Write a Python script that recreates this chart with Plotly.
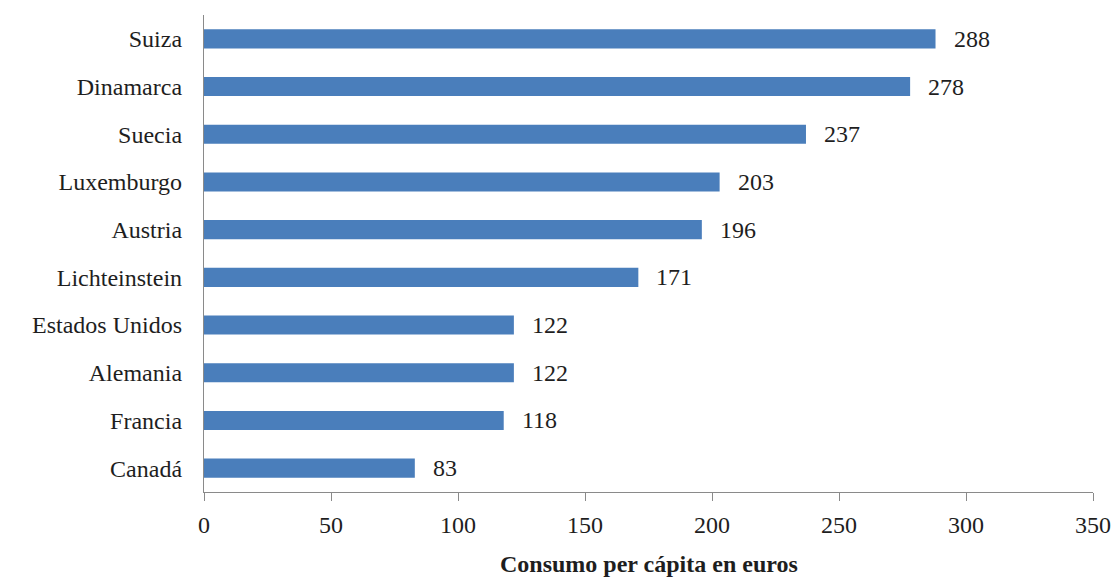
import plotly.graph_objects as go

countries = ["Suiza", "Dinamarca", "Suecia", "Luxemburgo", "Austria",
             "Lichteinstein", "Estados Unidos", "Alemania", "Francia", "Canadá"]
values = [288, 278, 237, 203, 196, 171, 122, 122, 118, 83]
x_ticks = [0, 50, 100, 150, 200, 250, 300, 350]
x_title = "Consumo per cápita en euros"

FONT = "Liberation Serif, Times New Roman, serif"
TXT = "#1e1e1e"
AX = "#8a8a8a"

fig = go.Figure(go.Bar(
    x=values, y=countries, orientation="h",
    marker=dict(color="#4a7ebb", line=dict(width=0)),
    width=0.4, hoverinfo="x+y",
))

for c, v in zip(countries, values):
    fig.add_annotation(x=v, y=c, text=str(v), showarrow=False,
                       xanchor="left", yanchor="middle", xshift=16,
                       font=dict(family=FONT, size=24, color=TXT))

fig.add_annotation(x=0.5, y=0, xref="paper", yref="paper", text="<b>" + x_title + "</b>",
                   showarrow=False, xanchor="center", yanchor="middle", yshift=-72,
                   font=dict(family=FONT, size=24, color=TXT))

fig.update_layout(
    width=1116, height=579,
    margin=dict(l=204, r=23, t=15, b=87),
    paper_bgcolor="white", plot_bgcolor="white",
    showlegend=False,
    font=dict(family=FONT, size=24, color=TXT),
)
fig.update_xaxes(range=[0, 350], tickvals=x_ticks, ticktext=[str(t) for t in x_ticks],
                 showgrid=False, zeroline=False, showline=True, linecolor=AX, linewidth=1.3,
                 ticks="outside", ticklen=8, tickcolor=AX, tickwidth=1.3,
                 ticklabelstandoff=3, automargin=False,
                 tickfont=dict(family=FONT, size=24, color=TXT))
fig.update_yaxes(autorange="reversed", showgrid=False, zeroline=False,
                 showline=True, linecolor=AX, linewidth=1.3, ticks="",
                 ticklabelstandoff=16, automargin=False,
                 tickfont=dict(family=FONT, size=24, color=TXT))

fig.write_html("out.html")
